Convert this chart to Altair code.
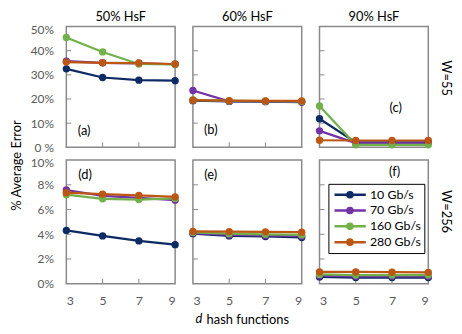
import altair as alt
import pandas as pd

d_vals = [3, 5, 7, 9]
series = ["10 Gb/s", "70 Gb/s", "160 Gb/s", "280 Gb/s"]
colors = ["#0C2A64", "#7332A6", "#72B04A", "#BC5614"]
col_titles = ["50% HsF", "60% HsF", "90% HsF"]
row_titles = ["W=55", "W=256"]
tags = ["(a)", "(b)", "(c)", "(d)", "(e)", "(f)"]
top_ticks = [0, 10, 20, 30, 40, 50]
bottom_ticks = [0, 2, 4, 6, 8, 10]

# % average error per series, at d = 3, 5, 7, 9
a_10 = [32.5, 28.9, 27.8, 27.6]
a_70 = [35.7, 35.0, 34.8, 34.4]
a_160 = [45.5, 39.5, 34.5, 34.3]
a_280 = [35.3, 35.0, 34.9, 34.5]
b_10 = [19.3, 19.0, 18.9, 18.7]
b_70 = [23.5, 19.0, 19.0, 18.8]
b_160 = [19.6, 19.2, 19.1, 19.0]
b_280 = [19.5, 19.3, 19.2, 19.2]
c_10 = [11.8, 2.0, 2.0, 2.0]
c_70 = [6.8, 1.7, 1.7, 1.7]
c_160 = [17.1, 1.0, 1.0, 1.0]
c_280 = [2.9, 2.8, 2.8, 2.8]
d_10 = [4.31, 3.87, 3.46, 3.16]
d_70 = [7.58, 7.10, 6.95, 6.76]
d_160 = [7.20, 6.87, 6.81, 6.90]
d_280 = [7.36, 7.25, 7.14, 7.03]
e_10 = [4.05, 3.87, 3.82, 3.74]
e_70 = [4.10, 3.95, 3.90, 3.85]
e_160 = [4.15, 4.05, 4.00, 3.95]
e_280 = [4.23, 4.22, 4.20, 4.17]
f_10 = [0.55, 0.50, 0.50, 0.50]
f_70 = [0.65, 0.60, 0.60, 0.60]
f_160 = [0.75, 0.70, 0.70, 0.70]
f_280 = [0.95, 0.95, 0.93, 0.92]

W = 110
H_TOP, H_BOT = 122, 125
AX = "#898989"
LBL = "#595959"
FONT = "Lato"
PATH = "M-0.74,0H4.12M2.06,0A0.4,0.4,0,1,1,1.26,0A0.4,0.4,0,1,1,2.06,0"

LEGEND = alt.Legend(
    title=None, orient="none", legendX=265, legendY=159,
    symbolType=PATH, symbolSize=169, symbolStrokeWidth=2.5, symbolOpacity=1,
    labelFont=FONT, labelFontSize=12.5, labelColor="black",
    strokeColor="black", fillColor="white", padding=3, rowPadding=0, labelOffset=23,
)
color_enc = alt.Color("series:N", scale=alt.Scale(domain=series, range=colors), legend=LEGEND)


def make_df(lists):
    rows = []
    for s, vals in zip(series, lists):
        for d, v in zip(d_vals, vals):
            rows.append({"d": d, "err": v, "series": s})
    return pd.DataFrame(rows)


def text_layer(txt, x, y, **kw):
    return alt.Chart(pd.DataFrame({"t": [txt]})).mark_text(font=FONT, fontSize=13, color="black", **kw).encode(
        text="t:N", x=alt.value(x), y=alt.value(y))


def panel(lists, ticks, h, tag, tag_xy, first_col, bottom, title=None, row_label=None, x_title=False):
    df = make_df(lists)
    ymax = ticks[-1]
    xscale = alt.Scale(domain=[3, 9], nice=False, zero=False)
    yscale = alt.Scale(domain=[0, ymax], nice=False, zero=True)
    if bottom:
        xaxis = alt.Axis(values=d_vals, ticks=False, domain=False, grid=False, labelPadding=11,
                         title="hash functions" if x_title else None,
                         titleX=W / 2, titleY=36, titleBaseline="middle")
    else:
        xaxis = None
    if first_col:
        lab = "datum.value == 0 ? '0 %' : datum.value + '%'" if ymax == 50 else "datum.value + '%'"
        yaxis = alt.Axis(values=ticks, ticks=False, domain=False, grid=False, labelExpr=lab,
                         labelPadding=13, labelFontSize=12,
                         labelOffset=alt.condition(f"datum.value == {ymax}", alt.value(2.5), alt.value(0)),
                         title="% Average Error" if ymax == 50 else None,
                         titleX=-50, titleY=140, titleBaseline="middle")
    else:
        yaxis = None
    x = alt.X("d:Q", scale=xscale, axis=xaxis)
    y = alt.Y("err:Q", scale=yscale, axis=yaxis)

    base = alt.Chart(df)
    lines = base.mark_line(strokeWidth=2.25).encode(x=x, y=y, color=color_enc)
    pts = base.mark_circle(size=55, opacity=1).encode(x=x, y=y, color=color_enc)
    ytk = alt.Chart(pd.DataFrame({"err": ticks[1:-1]})).mark_rule(color=AX, strokeWidth=1).encode(
        y=y, x=alt.value(0), x2=alt.value(5))
    xtk = alt.Chart(pd.DataFrame({"d": d_vals[1:-1]})).mark_rule(color=AX, strokeWidth=1).encode(
        x=x, y=alt.value(h), y2=alt.value(h - 5))
    layers = [ytk, xtk, lines, pts, text_layer(tag, tag_xy[0], tag_xy[1])]
    if title:
        layers.append(text_layer(title, W / 2, -6, baseline="alphabetic"))
    if row_label:
        layers.append(text_layer(row_label, W + 18, 52, angle=90))
    if x_title:
        layers.append(text_layer("d", 6, h + 36, fontStyle="italic", baseline="middle"))
    return alt.layer(*layers).properties(width=W, height=h)


pa = panel([a_10, a_70, a_160, a_280], top_ticks, H_TOP, tags[0], (18, 106), True, False, col_titles[0])
pb = panel([b_10, b_70, b_160, b_280], top_ticks, H_TOP, tags[1], (18, 105), False, False, col_titles[1])
pc = panel([c_10, c_70, c_160, c_280], top_ticks, H_TOP, tags[2], (77, 82), False, False, col_titles[2],
           row_label=row_titles[0])
pd_ = panel([d_10, d_70, d_160, d_280], bottom_ticks, H_BOT, tags[3], (19, 15), True, True)
pe = panel([e_10, e_70, e_160, e_280], bottom_ticks, H_BOT, tags[4], (18, 15), False, True, x_title=True)
pf = panel([f_10, f_70, f_160, f_280], bottom_ticks, H_BOT, tags[5], (76, 12), False, True,
           row_label=row_titles[1])

chart = alt.concat(pa, pb, pc, pd_, pe, pf, columns=3, spacing={"row": 13, "column": 18},
                   bounds="flush").properties(
    autosize=alt.AutoSizeParams(type="none"),
    padding={"left": 59, "top": 17, "right": 392, "bottom": 305},
).configure_view(stroke=AX, strokeWidth=1.5).configure_axis(
    labelFont=FONT, labelFontSize=12.5, labelColor=LBL,
    titleFont=FONT, titleFontSize=13, titleFontWeight="normal", titleColor="black",
)

chart.save("out.html", embed_options={"renderer": "svg", "actions": False})
